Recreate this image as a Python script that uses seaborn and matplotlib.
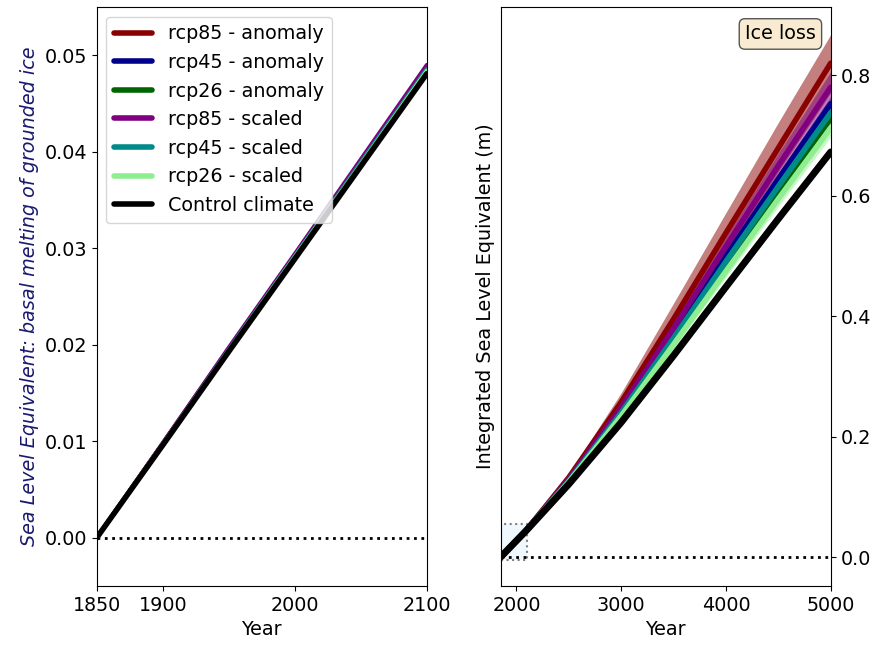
import numpy as np
import pandas as pd
import seaborn as sns
import matplotlib.pyplot as plt
from matplotlib.patches import Rectangle

sns.set_style("ticks")
plt.rcParams["font.family"] = ["DejaVu Sans"]
plt.rcParams.update({"text.color": "black", "axes.labelcolor": "black",
                     "xtick.color": "black", "ytick.color": "black",
                     "axes.edgecolor": "black"})

FS = 13.8

# ---- data -------------------------------------------------------------------
# left panel: 1850-2100, basal melting of grounded ice (m SLE)
years_hist = [1850, 1900, 1950, 2000, 2050, 2100]
hist_rcp85_anom = [0.0, 0.0098, 0.0196, 0.0293, 0.0390, 0.0488]
hist_rcp45_anom = [0.0, 0.0097, 0.0195, 0.0292, 0.0389, 0.0486]
hist_rcp26_anom = [0.0, 0.0097, 0.0195, 0.0291, 0.0388, 0.0485]
hist_rcp85_scaled = [0.0, 0.0098, 0.0197, 0.0294, 0.0392, 0.0490]
hist_rcp45_scaled = [0.0, 0.0097, 0.0195, 0.0292, 0.0389, 0.0486]
hist_rcp26_scaled = [0.0, 0.0097, 0.0194, 0.0291, 0.0387, 0.0484]
hist_control = [0.0, 0.0096, 0.0193, 0.0289, 0.0385, 0.0481]

# right panel: 1850-5000, integrated sea level equivalent (m)
years_long = [1850, 2100, 2500, 3000, 3500, 4000, 4500, 5000]
rcp85_anom = [0.0, 0.0455, 0.132, 0.257, 0.395, 0.538, 0.679, 0.820]
rcp85_anom_lo = [0.0, 0.045, 0.127, 0.2436, 0.373, 0.5068, 0.6401, 0.7707]
rcp85_anom_hi = [0.0, 0.0459, 0.138, 0.2727, 0.4215, 0.5718, 0.7215, 0.8675]
rcp45_anom = [0.0, 0.0452, 0.127, 0.2425, 0.3696, 0.4996, 0.6278, 0.7525]
rcp45_anom_lo = [0.0, 0.045, 0.1258, 0.2391, 0.3646, 0.492, 0.6177, 0.7404]
rcp45_anom_hi = [0.0, 0.0455, 0.1283, 0.2459, 0.3746, 0.5068, 0.6373, 0.7646]
rcp26_anom = [0.0, 0.0452, 0.1258, 0.2376, 0.3596, 0.4844, 0.6075, 0.7283]
rcp26_anom_lo = [0.0, 0.045, 0.1252, 0.2358, 0.3566, 0.4799, 0.6019, 0.7202]
rcp26_anom_hi = [0.0, 0.0455, 0.1264, 0.2391, 0.3623, 0.4889, 0.6137, 0.7364]
rcp85_scaled = [0.0, 0.0455, 0.1295, 0.2481, 0.3797, 0.5158, 0.6497, 0.7801]
rcp85_scaled_lo = [0.0, 0.045, 0.127, 0.2425, 0.3696, 0.5001, 0.6289, 0.7559]
rcp85_scaled_hi = [0.0, 0.0459, 0.1319, 0.2537, 0.3897, 0.5315, 0.6704, 0.8057]
rcp45_scaled = [0.0, 0.0452, 0.1264, 0.2396, 0.3636, 0.4907, 0.6154, 0.7377]
rcp45_scaled_lo = [0.0, 0.045, 0.1258, 0.2374, 0.3596, 0.4844, 0.6075, 0.7283]
rcp45_scaled_hi = [0.0, 0.0455, 0.127, 0.2418, 0.3669, 0.496, 0.6227, 0.7471]
rcp26_scaled = [0.0, 0.045, 0.1246, 0.2342, 0.3529, 0.4745, 0.5946, 0.7122]
rcp26_scaled_lo = [0.0, 0.045, 0.1234, 0.2307, 0.3462, 0.4646, 0.5823, 0.6974]
rcp26_scaled_hi = [0.0, 0.045, 0.1258, 0.2374, 0.3586, 0.4826, 0.6059, 0.727]
control = [0.0, 0.045, 0.121, 0.2235, 0.3345, 0.4485, 0.5615, 0.6725]

labels = ["rcp85 - anomaly", "rcp45 - anomaly", "rcp26 - anomaly",
          "rcp85 - scaled", "rcp45 - scaled", "rcp26 - scaled", "Control climate"]
colors = ["darkred", "darkblue", "darkgreen", "purple", "darkcyan", "lightgreen", "black"]

hist_series = [hist_rcp85_anom, hist_rcp45_anom, hist_rcp26_anom,
               hist_rcp85_scaled, hist_rcp45_scaled, hist_rcp26_scaled, hist_control]
long_series = [(rcp85_anom, rcp85_anom_lo, rcp85_anom_hi),
               (rcp45_anom, rcp45_anom_lo, rcp45_anom_hi),
               (rcp26_anom, rcp26_anom_lo, rcp26_anom_hi),
               (rcp85_scaled, rcp85_scaled_lo, rcp85_scaled_hi),
               (rcp45_scaled, rcp45_scaled_lo, rcp45_scaled_hi),
               (rcp26_scaled, rcp26_scaled_lo, rcp26_scaled_hi),
               (control, None, None)]

fig = plt.figure(figsize=(8.8, 6.46), dpi=100)
ax1 = fig.add_axes([0.110, 0.093, 0.375, 0.896])
ax2 = fig.add_axes([0.569, 0.093, 0.375, 0.896])

# ---- left panel ---------------------------------------------------------------
for vals, lab, col in zip(hist_series, labels, colors):
    lw = 4 if col == "black" else 3
    sns.lineplot(x=years_hist, y=vals, color=col, lw=lw, label=lab, ax=ax1)
ax1.axhline(0, color="black", ls=":", lw=2)
ax1.set_xlim(1850, 2100)
ax1.set_ylim(-0.005, 0.055)
ax1.set_xticks([1850, 1900, 2000, 2100])
ax1.set_yticks([0.0, 0.01, 0.02, 0.03, 0.04, 0.05])
ax1.set_xlabel("Year", fontsize=FS)
ax1.set_ylabel("Sea Level Equivalent: basal melting of grounded ice",
               fontsize=FS, style="italic", color="midnightblue")
ax1.tick_params(labelsize=FS)
leg = ax1.legend(loc="upper left", fontsize=FS)
for ln in leg.get_lines():
    ln.set_linewidth(4)

# ---- right panel --------------------------------------------------------------
ax2.add_patch(Rectangle((1850, -0.005), 250, 0.06, facecolor="aliceblue",
                        edgecolor="grey", ls=":", lw=1.5, zorder=1))
for (vals, lo, hi), col in zip(long_series, colors):
    if lo is not None:
        ax2.fill_between(years_long, lo, hi, color=col, alpha=0.5, lw=0, zorder=2)
    lw = 5 if col == "black" else 4
    sns.lineplot(x=years_long, y=vals, color=col, lw=lw, ax=ax2, zorder=3)
ax2.axhline(0, color="black", ls=":", lw=2)
ax2.set_xlim(1850, 5000)
ax2.set_ylim(-0.048, 0.913)
ax2.set_xticks([2000, 3000, 4000, 5000])
ax2.set_yticks([0.0, 0.2, 0.4, 0.6, 0.8])
ax2.yaxis.tick_right()
ax2.yaxis.set_label_position("left")
ax2.set_xlabel("Year", fontsize=FS)
ax2.set_ylabel("Integrated Sea Level Equivalent (m)", fontsize=FS)
ax2.tick_params(labelsize=FS)
ax2.text(0.955, 0.97, "Ice loss", transform=ax2.transAxes, ha="right", va="top",
         fontsize=FS, bbox=dict(boxstyle="round", facecolor=(0.96, 0.87, 0.70, 0.6),
                                edgecolor="#555555"))

fig.savefig("out.png", dpi=100)
